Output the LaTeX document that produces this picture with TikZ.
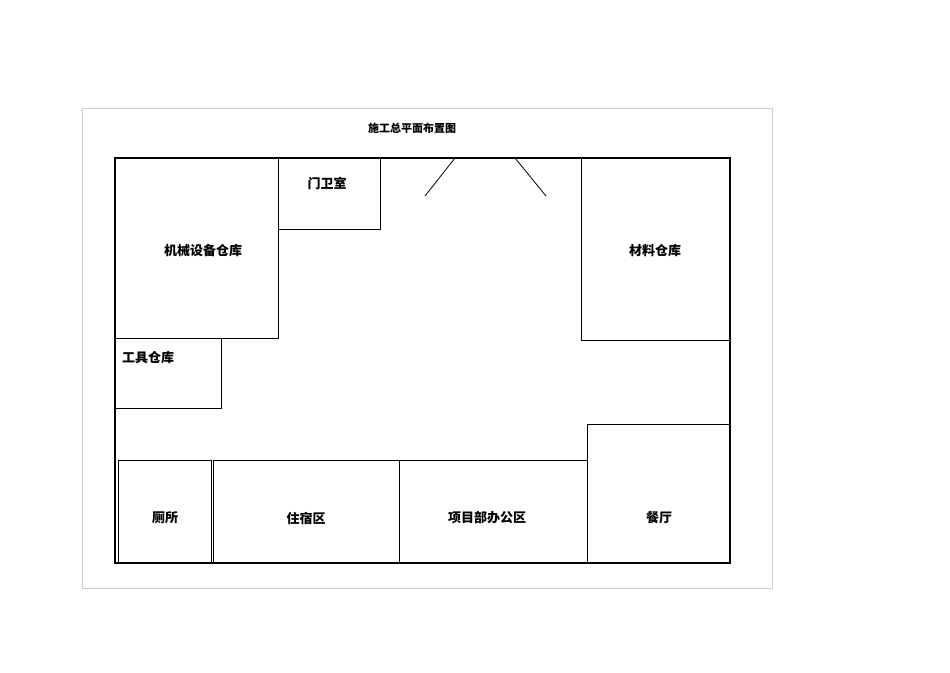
\documentclass[tikz,border=0pt]{standalone}
\usepackage{fontspec}
\newfontfamily\cjk{Noto Sans CJK SC}
\begin{document}
\begin{tikzpicture}[x=1pt,y=-1pt,
  room/.style={draw=black,line width=0.8pt},
  lbl/.style={font=\cjk\bfseries\fontsize{13}{13}\selectfont,inner sep=0pt}]
\useasboundingbox (0,0) rectangle (950,672);
\draw[gray!40,line width=0.6pt] (82,108) rectangle (772,588);
\node[lbl,font=\cjk\bfseries\fontsize{11}{11}\selectfont] (title) at (412,128) {施工总平面布置图};
\draw[line width=1.6pt] (115,158) rectangle (730,563);
\draw[room] (455,158) -- (425,196);
\draw[room] (515,158) -- (546,196);
\draw[room] (115,158) rectangle (278,338);
\draw[room] (278,158) rectangle (380,229);
\draw[room] (115,338) rectangle (221,408);
\draw[room] (581,158) rectangle (730,340);
\draw[room] (587,424) rectangle (730,563);
\draw[room] (118,460) rectangle (211,563);
\draw[room] (213,460) rectangle (399,563);
\draw[room] (399,460) rectangle (587,563);
\node[lbl] (gate) at (327,183) {门卫室};
\node[lbl] (jx) at (203,251) {机械设备仓库};
\node[lbl] (gj) at (148,358) {工具仓库};
\node[lbl] (cl) at (655,251) {材料仓库};
\node[lbl] (cs) at (165,518) {厕所};
\node[lbl] (zs) at (306,518) {住宿区};
\node[lbl] (xm) at (487,518) {项目部办公区};
\node[lbl] (ct) at (659,518) {餐厅};
\end{tikzpicture}
\end{document}
